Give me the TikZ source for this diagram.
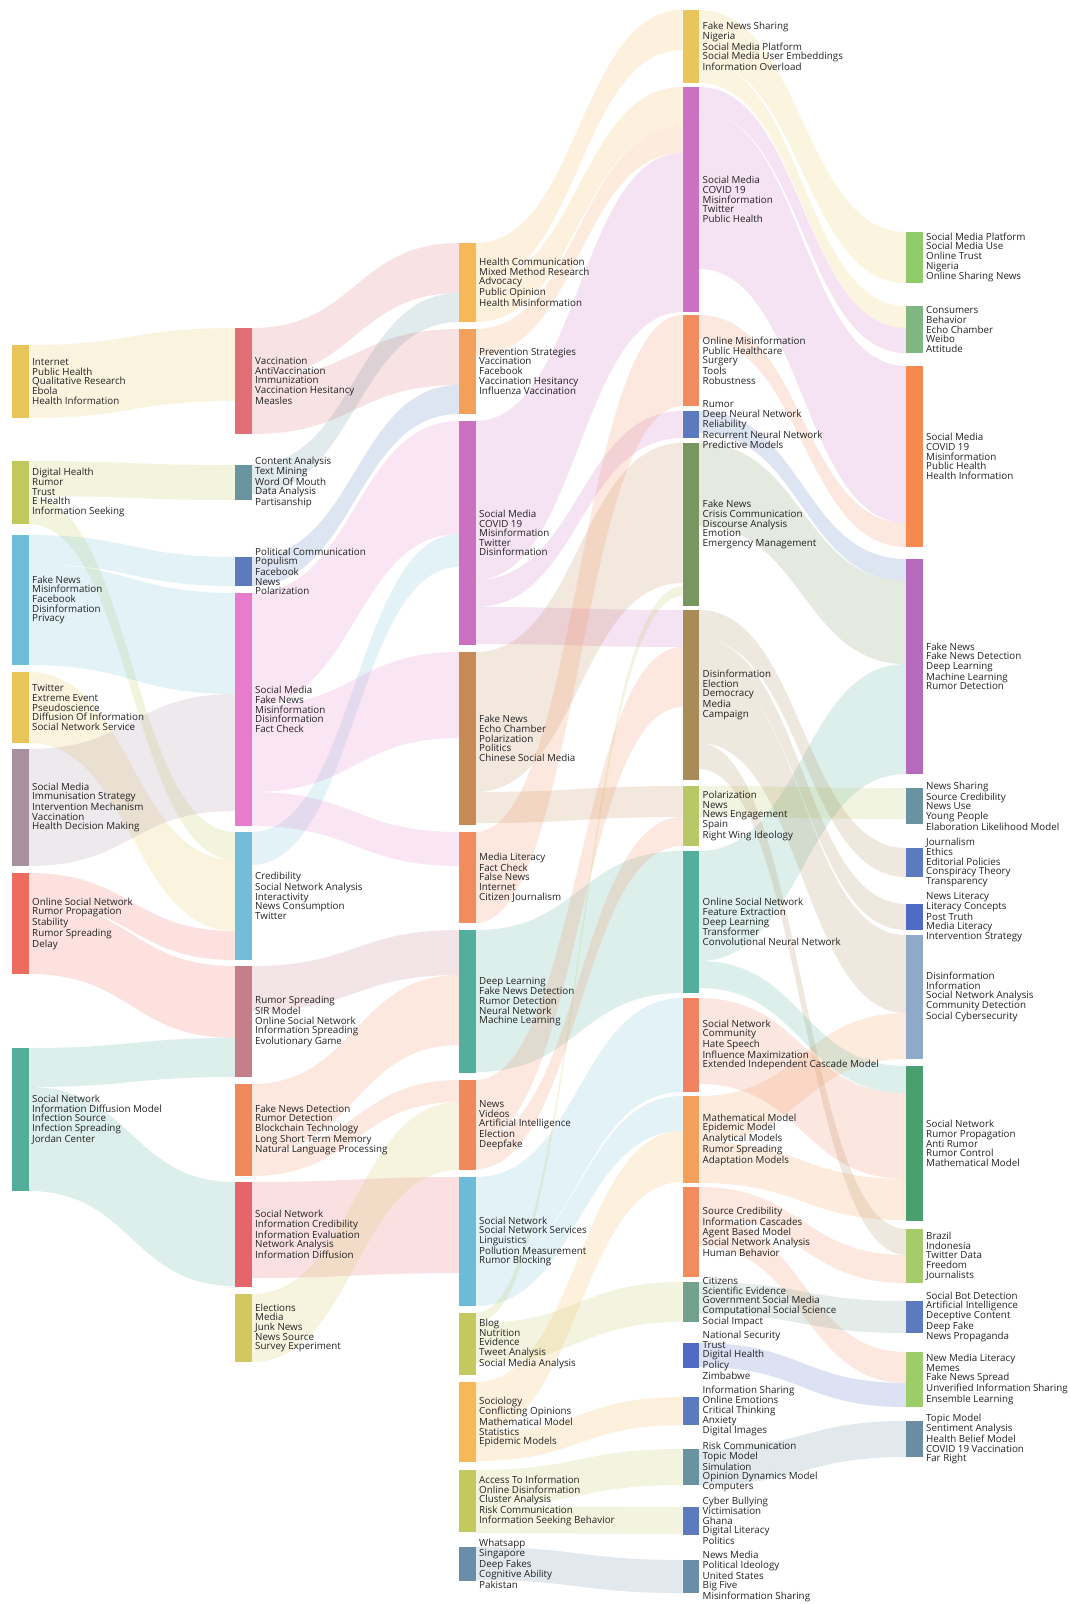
\documentclass[tikz,border=0pt]{standalone}
\usepackage{fontspec}
\setmainfont{Open Sans}
\usetikzlibrary{backgrounds}
\definecolor{txt}{HTML}{222222}
% node colours
\definecolor{Cn1a}{HTML}{E8C55A}\definecolor{Cn1b}{HTML}{C3C85C}\definecolor{Cn1c}{HTML}{6DBDD8}
\definecolor{Cn1d}{HTML}{E8C55A}\definecolor{Cn1e}{HTML}{A8919F}\definecolor{Cn1f}{HTML}{EE6B60}
\definecolor{Cn1g}{HTML}{52AE9B}
\definecolor{Cn2a}{HTML}{E06F76}\definecolor{Cn2b}{HTML}{6B94A1}\definecolor{Cn2c}{HTML}{5C7BBE}
\definecolor{Cn2d}{HTML}{E87CCC}\definecolor{Cn2e}{HTML}{74BCD8}\definecolor{Cn2f}{HTML}{C57F89}
\definecolor{Cn2g}{HTML}{F08A5B}\definecolor{Cn2h}{HTML}{E5656B}\definecolor{Cn2i}{HTML}{D3C760}
\definecolor{Cn3a}{HTML}{F6B858}\definecolor{Cn3b}{HTML}{F3A15A}\definecolor{Cn3c}{HTML}{CC70C2}
\definecolor{Cn3d}{HTML}{C58A56}\definecolor{Cn3e}{HTML}{F08C5E}\definecolor{Cn3f}{HTML}{53AE9D}
\definecolor{Cn3g}{HTML}{F08A5B}\definecolor{Cn3h}{HTML}{6CBCD7}\definecolor{Cn3i}{HTML}{C3C95F}
\definecolor{Cn3j}{HTML}{F6B858}\definecolor{Cn3k}{HTML}{C3C95F}\definecolor{Cn3l}{HTML}{6A8DAA}
\definecolor{Cn4a}{HTML}{E9C65B}\definecolor{Cn4b}{HTML}{CC70C2}\definecolor{Cn4c}{HTML}{F08C5E}
\definecolor{Cn4d}{HTML}{5C7BBE}\definecolor{Cn4e}{HTML}{78965F}\definecolor{Cn4f}{HTML}{A98B58}
\definecolor{Cn4g}{HTML}{B8C867}\definecolor{Cn4h}{HTML}{53AE9D}\definecolor{Cn4i}{HTML}{F08262}
\definecolor{Cn4j}{HTML}{F3A15A}\definecolor{Cn4k}{HTML}{F08C5E}\definecolor{Cn4l}{HTML}{72A28E}
\definecolor{Cn4m}{HTML}{4F6BC6}\definecolor{Cn4n}{HTML}{5C7BBE}\definecolor{Cn4o}{HTML}{6A93A1}
\definecolor{Cn4p}{HTML}{5C7BBE}\definecolor{Cn4q}{HTML}{6A8DAA}
\definecolor{Cn5a}{HTML}{8FCB6B}\definecolor{Cn5b}{HTML}{80B780}\definecolor{Cn5c}{HTML}{F5894F}
\definecolor{Cn5d}{HTML}{B56ABB}\definecolor{Cn5e}{HTML}{6A93A1}\definecolor{Cn5f}{HTML}{5C7BBE}
\definecolor{Cn5g}{HTML}{4F6BC6}\definecolor{Cn5h}{HTML}{8FAAC8}\definecolor{Cn5i}{HTML}{4A9F6F}
\definecolor{Cn5j}{HTML}{A6CB6A}\definecolor{Cn5k}{HTML}{5C7BBE}\definecolor{Cn5l}{HTML}{9DCC6B}
\definecolor{Cn5m}{HTML}{6A8DA3}
\tikzset{
  bar/.style={rectangle, draw=none, minimum width=16.5pt, inner sep=0pt, outer sep=0pt},
  lbl/.style={anchor=west, align=left, inner sep=0pt, text=txt,
    font=\fontsize{9.8pt}{9.6pt}\selectfont},
  flowstyle/.style={draw=none, fill opacity=0.2}
}
% \snode{name}{x centre}{top}{bottom}{label}
\newcommand{\snode}[5]{%
  \node[bar, fill=C#1, minimum height={#4-#3}] (#1) at (#2,{(#3+#4)/2}) {};
  \node[lbl] (#1l) at ([xshift=3.5pt]#1.east) {#5};}
% \flow{source}{source offset}{target}{target offset}{width}
\newcommand{\flow}[5]{%
  \fill[flowstyle, fill=C#1] ([yshift=-#2pt]#1.north east)
    .. controls +(103.5pt,0pt) and +(-103.5pt,0pt) .. ([yshift=-#4pt]#3.north west)
    -- ([yshift={-#4pt-#5pt}]#3.north west)
    .. controls +(-103.5pt,0pt) and +(103.5pt,0pt) .. ([yshift={-#2pt-#5pt}]#1.north east)
    -- cycle;}
\begin{document}
\begin{tikzpicture}[x=1pt,y=-1pt]
\useasboundingbox (0,0) rectangle (1069,1604);
% column 1
\snode{n1a}{20.25}{345}{418}{Internet\\Public Health\\Qualitative Research\\Ebola\\Health Information}
\snode{n1b}{20.25}{461}{524}{Digital Health\\Rumor\\Trust\\E Health\\Information Seeking}
\snode{n1c}{20.25}{535}{665}{Fake News\\Misinformation\\Facebook\\Disinformation\\Privacy}
\snode{n1d}{20.25}{672}{743}{Twitter\\Extreme Event\\Pseudoscience\\Diffusion Of Information\\Social Network Service}
\snode{n1e}{20.25}{749}{866}{Social Media\\Immunisation Strategy\\Intervention Mechanism\\Vaccination\\Health Decision Making}
\snode{n1f}{20.25}{873}{974}{Online Social Network\\Rumor Propagation\\Stability\\Rumor Spreading\\Delay}
\snode{n1g}{20.25}{1048}{1191}{Social Network\\Information Diffusion Model\\Infection Source\\Infection Spreading\\Jordan Center}
% column 2
\snode{n2a}{243.25}{328}{434}{Vaccination\\AntiVaccination\\Immunization\\Vaccination Hesitancy\\Measles}
\snode{n2b}{243.25}{465}{500}{Content Analysis\\Text Mining\\Word Of Mouth\\Data Analysis\\Partisanship}
\snode{n2c}{243.25}{557}{586}{Political Communication\\Populism\\Facebook\\News\\Polarization}
\snode{n2d}{243.25}{593}{826}{Social Media\\Fake News\\Misinformation\\Disinformation\\Fact Check}
\snode{n2e}{243.25}{832}{960}{Credibility\\Social Network Analysis\\Interactivity\\News Consumption\\Twitter}
\snode{n2f}{243.25}{966}{1077}{Rumor Spreading\\SIR Model\\Online Social Network\\Information Spreading\\Evolutionary Game}
\snode{n2g}{243.25}{1084}{1176}{Fake News Detection\\Rumor Detection\\Blockchain Technology\\Long Short Term Memory\\Natural Language Processing}
\snode{n2h}{243.25}{1182}{1287}{Social Network\\Information Credibility\\Information Evaluation\\Network Analysis\\Information Diffusion}
\snode{n2i}{243.25}{1294}{1362}{Elections\\Media\\Junk News\\News Source\\Survey Experiment}
% column 3
\snode{n3a}{467.25}{243}{322}{Health Communication\\Mixed Method Research\\Advocacy\\Public Opinion\\Health Misinformation}
\snode{n3b}{467.25}{329}{414}{Prevention Strategies\\Vaccination\\Facebook\\Vaccination Hesitancy\\Influenza Vaccination}
\snode{n3c}{467.25}{421}{645}{Social Media\\COVID 19\\Misinformation\\Twitter\\Disinformation}
\snode{n3d}{467.25}{652}{825}{Fake News\\Echo Chamber\\Polarization\\Politics\\Chinese Social Media}
\snode{n3e}{467.25}{832}{923}{Media Literacy\\Fact Check\\False News\\Internet\\Citizen Journalism}
\snode{n3f}{467.25}{930}{1073}{Deep Learning\\Fake News Detection\\Rumor Detection\\Neural Network\\Machine Learning}
\snode{n3g}{467.25}{1080}{1170}{News\\Videos\\Artificial Intelligence\\Election\\Deepfake}
\snode{n3h}{467.25}{1177}{1306}{Social Network\\Social Network Services\\Linguistics\\Pollution Measurement\\Rumor Blocking}
\snode{n3i}{467.25}{1313}{1375}{Blog\\Nutrition\\Evidence\\Tweet Analysis\\Social Media Analysis}
\snode{n3j}{467.25}{1382}{1462}{Sociology\\Conflicting Opinions\\Mathematical Model\\Statistics\\Epidemic Models}
\snode{n3k}{467.25}{1470}{1532}{Access To Information\\Online Disinformation\\Cluster Analysis\\Risk Communication\\Information Seeking Behavior}
\snode{n3l}{467.25}{1547}{1581}{Whatsapp\\Singapore\\Deep Fakes\\Cognitive Ability\\Pakistan}
% column 4
\snode{n4a}{690.75}{10}{83}{Fake News Sharing\\Nigeria\\Social Media Platform\\Social Media User Embeddings\\Information Overload}
\snode{n4b}{690.75}{87}{312}{Social Media\\COVID 19\\Misinformation\\Twitter\\Public Health}
\snode{n4c}{690.75}{315}{406}{Online Misinformation\\Public Healthcare\\Surgery\\Tools\\Robustness}
\snode{n4d}{690.75}{411}{438}{Rumor\\Deep Neural Network\\Reliability\\Recurrent Neural Network\\Predictive Models}
\snode{n4e}{690.75}{443}{606}{Fake News\\Crisis Communication\\Discourse Analysis\\Emotion\\Emergency Management}
\snode{n4f}{690.75}{610}{780}{Disinformation\\Election\\Democracy\\Media\\Campaign}
\snode{n4g}{690.75}{786}{846}{Polarization\\News\\News Engagement\\Spain\\Right Wing Ideology}
\snode{n4h}{690.75}{851}{993}{Online Social Network\\Feature Extraction\\Deep Learning\\Transformer\\Convolutional Neural Network}
\snode{n4i}{690.75}{998}{1092}{Social Network\\Community\\Hate Speech\\Influence Maximization\\Extended Independent Cascade Model}
\snode{n4j}{690.75}{1096}{1183}{Mathematical Model\\Epidemic Model\\Analytical Models\\Rumor Spreading\\Adaptation Models}
\snode{n4k}{690.75}{1187}{1277}{Source Credibility\\Information Cascades\\Agent Based Model\\Social Network Analysis\\Human Behavior}
\snode{n4l}{690.75}{1282}{1322}{Citizens\\Scientific Evidence\\Government Social Media\\Computational Social Science\\Social Impact}
\snode{n4m}{690.75}{1343}{1368}{National Security\\Trust\\Digital Health\\Policy\\Zimbabwe}
\snode{n4n}{690.75}{1397}{1425}{Information Sharing\\Online Emotions\\Critical Thinking\\Anxiety\\Digital Images}
\snode{n4o}{690.75}{1449}{1485}{Risk Communication\\Topic Model\\Simulation\\Opinion Dynamics Model\\Computers}
\snode{n4p}{690.75}{1507}{1535}{Cyber Bullying\\Victimisation\\Ghana\\Digital Literacy\\Politics}
\snode{n4q}{690.75}{1560}{1593}{News Media\\Political Ideology\\United States\\Big Five\\Misinformation Sharing}
% column 5
\snode{n5a}{914.25}{232}{283}{Social Media Platform\\Social Media Use\\Online Trust\\Nigeria\\Online Sharing News}
\snode{n5b}{914.25}{306}{353}{Consumers\\Behavior\\Echo Chamber\\Weibo\\Attitude}
\snode{n5c}{914.25}{366}{547}{Social Media\\COVID 19\\Misinformation\\Public Health\\Health Information}
\snode{n5d}{914.25}{559}{774}{Fake News\\Fake News Detection\\Deep Learning\\Machine Learning\\Rumor Detection}
\snode{n5e}{914.25}{788}{824}{News Sharing\\Source Credibility\\News Use\\Young People\\Elaboration Likelihood Model}
\snode{n5f}{914.25}{848}{877}{Journalism\\Ethics\\Editorial Policies\\Conspiracy Theory\\Transparency}
\snode{n5g}{914.25}{904}{930}{News Literacy\\Literacy Concepts\\Post Truth\\Media Literacy\\Intervention Strategy}
\snode{n5h}{914.25}{935}{1059}{Disinformation\\Information\\Social Network Analysis\\Community Detection\\Social Cybersecurity}
\snode{n5i}{914.25}{1066}{1221}{Social Network\\Rumor Propagation\\Anti Rumor\\Rumor Control\\Mathematical Model}
\snode{n5j}{914.25}{1229}{1283}{Brazil\\Indonesia\\Twitter Data\\Freedom\\Journalists}
\snode{n5k}{914.25}{1301}{1333}{Social Bot Detection\\Artificial Intelligence\\Deceptive Content\\Deep Fake\\News Propaganda}
\snode{n5l}{914.25}{1352}{1407}{New Media Literacy\\Memes\\Fake News Spread\\Unverified Information Sharing\\Ensemble Learning}
\snode{n5m}{914.25}{1421}{1457}{Topic Model\\Sentiment Analysis\\Health Belief Model\\COVID 19 Vaccination\\Far Right}
\begin{scope}[on background layer]
% column 1 -> 2
\flow{n1a}{0}{n2a}{0}{73}
\flow{n1b}{0}{n2b}{0}{35}
\flow{n1b}{35}{n2e}{0}{28}
\flow{n1c}{0}{n2c}{0}{29}
\flow{n1c}{29}{n2d}{0}{101}
\flow{n1d}{0}{n2e}{28}{71}
\flow{n1e}{0}{n2d}{101}{117}
\flow{n1f}{0}{n2e}{99}{29}
\flow{n1f}{29}{n2f}{0}{72}
\flow{n1g}{0}{n2f}{72}{39}
\flow{n1g}{39}{n2h}{0}{104}
% column 2 -> 3
\flow{n2a}{0}{n3a}{0}{50}
\flow{n2a}{50}{n3b}{0}{56}
\flow{n2b}{0}{n3a}{50}{29}
\flow{n2c}{0}{n3b}{56}{29}
\flow{n2d}{0}{n3c}{0}{113}
\flow{n2e}{0}{n3c}{113}{33}
\flow{n2d}{113}{n3d}{0}{86}
\flow{n2d}{199}{n3e}{0}{34}
\flow{n2f}{0}{n3f}{0}{45}
\flow{n2g}{0}{n3f}{45}{70}
\flow{n2g}{70}{n3g}{0}{22}
\flow{n2h}{0}{n3h}{0}{96}
\flow{n2i}{0}{n3g}{22}{68}
% column 3 -> 4
\flow{n3a}{0}{n4a}{0}{40}
\flow{n3a}{40}{n4b}{0}{39}
\flow{n3b}{0}{n4b}{39}{27}
\flow{n3c}{0}{n4b}{66}{159}
\flow{n3c}{159}{n4d}{0}{27}
\flow{n3c}{186}{n4f}{0}{37}
\flow{n3d}{0}{n4e}{0}{140}
\flow{n3d}{140}{n4g}{0}{31}
\flow{n3e}{0}{n4c}{0}{91}
\flow{n3f}{0}{n4h}{0}{142}
\flow{n3g}{0}{n4f}{37}{60}
\flow{n3g}{60}{n4g}{31}{29}
\flow{n3h}{0}{n4i}{0}{94}
\flow{n3h}{94}{n4j}{0}{35}
\flow{n3i}{0}{n4e}{143}{10}
\flow{n3i}{10}{n4l}{0}{40}
\flow{n3j}{0}{n4j}{35}{51}
\flow{n3j}{51}{n4n}{0}{28}
\flow{n3k}{0}{n4o}{0}{36}
\flow{n3k}{36}{n4p}{0}{27}
\flow{n3l}{0}{n4q}{0}{33}
% column 4 -> 5
\flow{n4a}{0}{n5a}{0}{51}
\flow{n4a}{51}{n5b}{0}{22}
\flow{n4b}{0}{n5b}{22}{25}
\flow{n4b}{25}{n5c}{0}{157}
\flow{n4c}{0}{n5c}{157}{24}
\flow{n4d}{0}{n5d}{0}{22}
\flow{n4e}{0}{n5d}{22}{83}
\flow{n4h}{0}{n5d}{105}{110}
\flow{n4g}{0}{n5e}{0}{31}
\flow{n4f}{0}{n5f}{0}{29}
\flow{n4f}{29}{n5g}{0}{26}
\flow{n4f}{55}{n5h}{0}{78}
\flow{n4f}{133}{n5j}{0}{26}
\flow{n4j}{0}{n5h}{78}{46}
\flow{n4h}{110}{n5i}{0}{27}
\flow{n4i}{0}{n5i}{27}{86}
\flow{n4j}{46}{n5i}{113}{41}
\flow{n4k}{0}{n5j}{26}{28}
\flow{n4k}{28}{n5l}{0}{31}
\flow{n4m}{0}{n5l}{31}{24}
\flow{n4l}{0}{n5k}{0}{32}
\flow{n4o}{0}{n5m}{0}{36}
\end{scope}
\end{tikzpicture}
\end{document}
